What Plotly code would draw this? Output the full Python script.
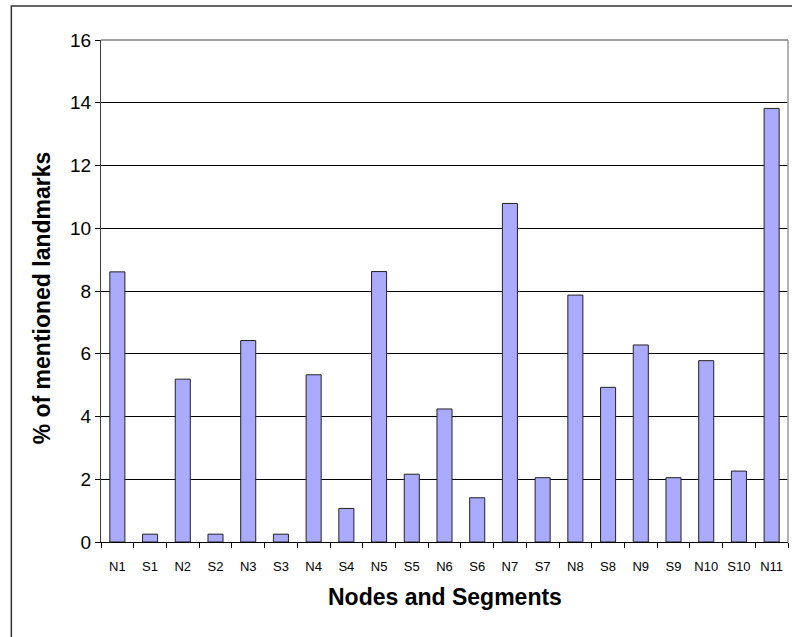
import plotly.graph_objects as go

categories = ["N1", "S1", "N2", "S2", "N3", "S3", "N4", "S4", "N5", "S5", "N6",
              "S6", "N7", "S7", "N8", "S8", "N9", "S9", "N10", "S10", "N11"]
percent_mentioned = [8.61, 0.25, 5.19, 0.25, 6.42, 0.25, 5.33, 1.07, 8.62, 2.16, 4.24,
                     1.41, 10.79, 2.05, 7.87, 4.93, 6.28, 2.05, 5.78, 2.26, 13.82]
y_ticks = [0, 2, 4, 6, 8, 10, 12, 14, 16]

FONT = "Liberation Sans, Arial, sans-serif"

W, H = 792, 637
L, R, T, B = 100.7, 788.0, 40.0, 542.0
pw, ph = R - L, B - T


def px_x(p):
    return (p - L) / pw


def px_y(p):
    return (B - p) / ph


fig = go.Figure()
fig.add_trace(go.Bar(
    x=categories,
    y=percent_mentioned,
    marker=dict(color="#AAAAFF", line=dict(color="#222222", width=1)),
    showlegend=False,
))

fig.update_layout(
    template="none",
    width=W, height=H,
    margin=dict(l=L, r=W - R, t=T, b=H - B, pad=0, autoexpand=False),
    paper_bgcolor="white",
    plot_bgcolor="white",
    bargap=0.54,
    font=dict(family=FONT, color="black"),
    xaxis=dict(
        type="category",
        automargin=False,
        showline=True, linecolor="black", linewidth=1,
        ticks="outside", tickson="boundaries", ticklen=5, tickcolor="black",
        tickangle=0,
        ticklabelstandoff=12,
        tickfont=dict(size=13, family=FONT, color="black"),
        showgrid=False,
        range=[-0.5, len(categories) - 0.5],
    ),
    yaxis=dict(
        automargin=False,
        range=[0, 16],
        tickvals=y_ticks,
        showline=True, linecolor="#404040", linewidth=1,
        ticks="outside", ticklen=5, tickcolor="black",
        tickfont=dict(size=19, family=FONT, color="black"),
        showgrid=True, gridcolor="black", gridwidth=1,
        zeroline=False,
    ),
    shapes=[
        dict(type="line", xref="paper", yref="paper", x0=1, x1=1, y0=0, y1=1,
             line=dict(color="#9a9a9a", width=1.5)),
        dict(type="line", xref="paper", yref="paper", x0=0, x1=1, y0=1, y1=1,
             line=dict(color="#808080", width=1.5)),
        dict(type="rect", xref="paper", yref="paper",
             x0=px_x(11), x1=px_x(W + 10), y0=px_y(6), y1=px_y(H + 10),
             line=dict(color="#333333", width=1.5), layer="below"),
    ],
    annotations=[
        dict(text="% of mentioned landmarks", xref="paper", yref="paper",
             x=px_x(42), y=px_y(298), textangle=-90, showarrow=False,
             xanchor="center", yanchor="middle",
             font=dict(size=23, family=FONT, color="black", weight="bold")),
        dict(text="Nodes and Segments", xref="paper", yref="paper",
             x=0.5, y=px_y(597), showarrow=False,
             xanchor="center", yanchor="middle",
             font=dict(size=23, family=FONT, color="black", weight="bold")),
    ],
)

fig.write_html(
    "out.html",
    config={"displayModeBar": False},
    post_script="document.body.style.margin='0';document.body.style.overflow='hidden';",
)
